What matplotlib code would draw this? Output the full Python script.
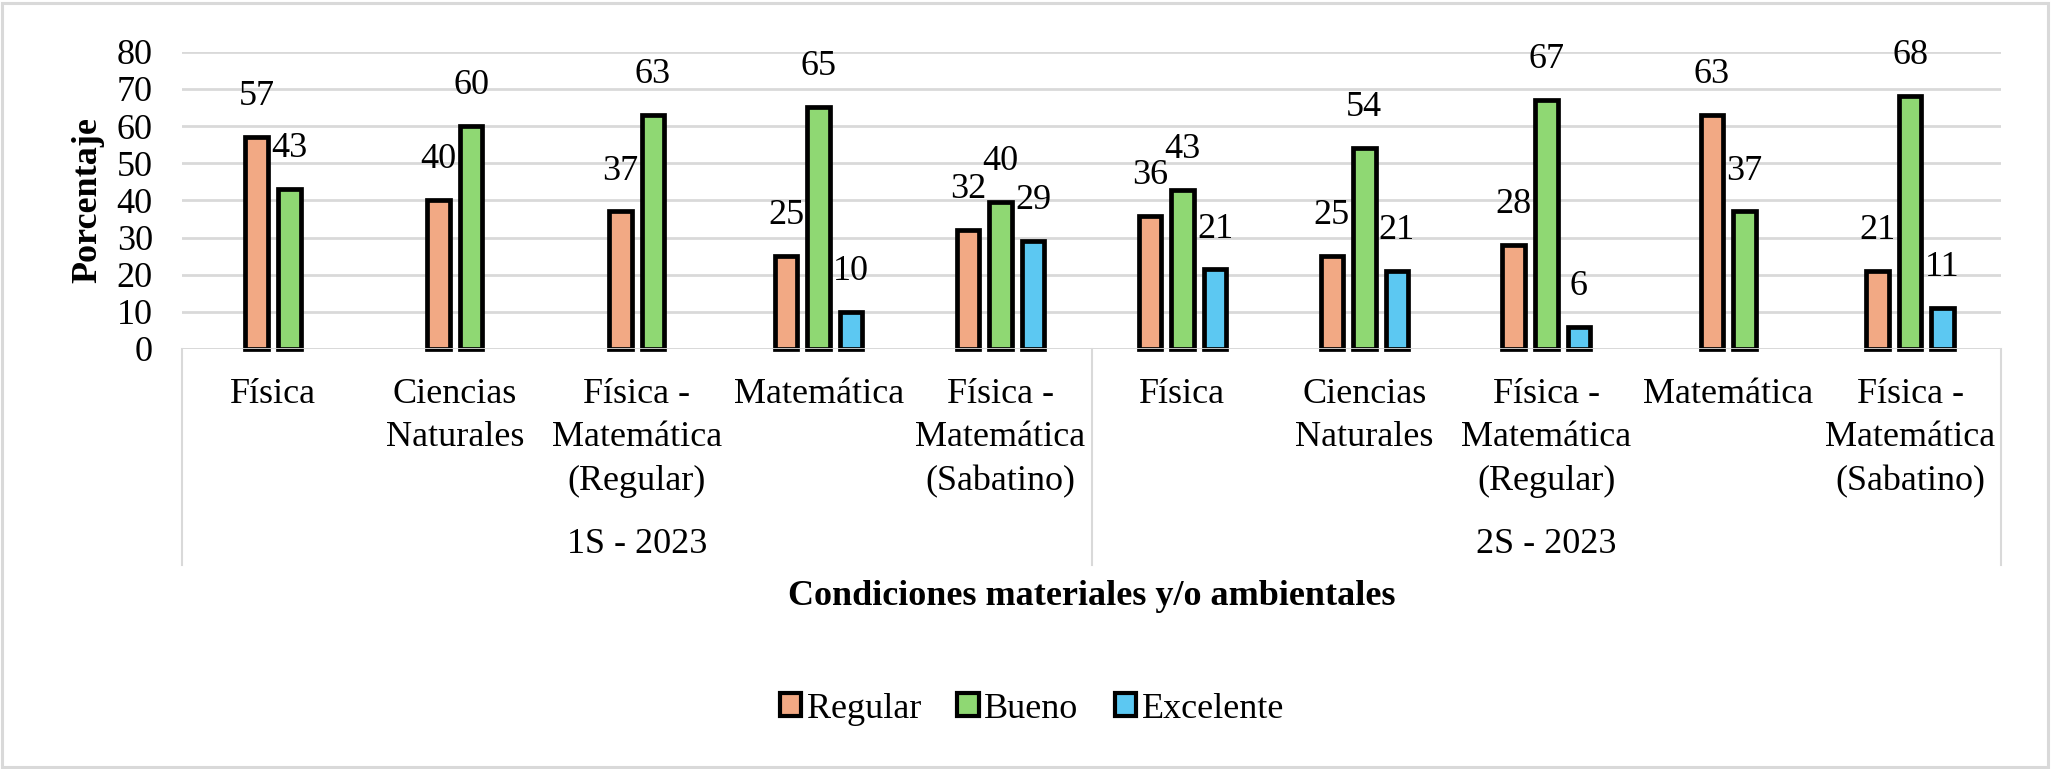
import matplotlib
matplotlib.use('Agg')
import matplotlib.pyplot as plt
from matplotlib.patches import Patch, Rectangle
from matplotlib.lines import Line2D

plt.rcParams['font.family'] = ['Liberation Serif', 'DejaVu Serif']

# --- data ---
categories = ['Física', 'Ciencias\nNaturales', 'Física -\nMatemática\n(Regular)', 'Matemática',
              'Física -\nMatemática\n(Sabatino)',
              'Física', 'Ciencias\nNaturales', 'Física -\nMatemática\n(Regular)', 'Matemática',
              'Física -\nMatemática\n(Sabatino)']
groups = ['1S - 2023', '2S - 2023']
series_names = ['Regular', 'Bueno', 'Excelente']
regular = [57, 40, 37, 25, 32, 35.7, 25, 28, 63, 21]
bueno = [43, 60, 63, 65, 39.5, 42.9, 54, 67, 37, 68]
excelente = [None, None, None, 10, 29, 21.4, 21, 6, None, 11]
colors = ['#F2A984', '#8FD873', '#5CC8F2']

# --- layout (pixels of the 2055x769 image) ---
W, H = 2055, 769
left, right, top, bottom = 182, 2001, 51.7, 349
catw = (right - left) / len(categories)


def fy(px):
    return 1 - px / H


def fx(x):
    return (left + (x + 0.5) * catw) / W


fig = plt.figure(figsize=(W / 100, H / 100), dpi=100)
ax = fig.add_axes([left / W, fy(bottom), (right - left) / W, (bottom - top) / H])

bw = 0.124
pitch = 0.179
for i in range(len(categories)):
    present = [(k, v) for k, v in enumerate([regular[i], bueno[i], excelente[i]]) if v is not None]
    n = len(present)
    for m, (k, v) in enumerate(present):
        x = i + (m - (n - 1) / 2) * pitch
        ax.bar(x, v, width=bw, color=colors[k], edgecolor='black', linewidth=3.4,
               zorder=2, clip_on=False)
        ax.annotate(f'{int(v + 0.5)}', (x, v), xytext=(0, 23), textcoords='offset points',
                    ha='center', va='baseline', fontsize=26)

ax.axhline(0, color='#D9D9D9', lw=2, zorder=3)
ax.set_xlim(-0.5, 9.5)
ax.set_ylim(0, 80)
ax.set_yticks(range(0, 81, 10))
ax.set_xticks([])
ax.tick_params(axis='y', length=0, pad=21, labelsize=26)
for s in ax.spines.values():
    s.set_visible(False)
ax.yaxis.grid(True, color='#D9D9D9', lw=2)
ax.set_axisbelow(True)

# category axis box
for x in [-0.5, 4.5, 9.5]:
    fig.add_artist(Line2D([fx(x), fx(x)], [fy(349), fy(565)], color='#D9D9D9', lw=1.5))

for i, lab in enumerate(categories):
    for k, line in enumerate(lab.split('\n')):
        fig.text(fx(i), fy(403 + k * 43.5), line, ha='center', va='baseline', fontsize=26)

fig.text(fx(2), fy(553), groups[0], ha='center', va='baseline', fontsize=26)
fig.text(fx(7), fy(553), groups[1], ha='center', va='baseline', fontsize=26)

fig.text(fx(4.5), fy(605), 'Condiciones materiales y/o ambientales', ha='center',
         va='baseline', fontsize=26, fontweight='bold')
fig.text(88 / W, fy(200), 'Porcentaje', rotation=90, ha='center', va='center',
         fontsize=26, fontweight='bold')

handles = [Patch(facecolor=c, edgecolor='black', lw=3.0) for c in colors]
fig.legend(handles, series_names, loc='center', bbox_to_anchor=(1032 / W, fy(709)),
           ncol=3, frameon=False, fontsize=26, handlelength=0.6, handleheight=0.6,
           handletextpad=0.15, columnspacing=1.0)

# chart border
fig.add_artist(Rectangle((2 / W, 2.5 / H), 2046 / W, 764 / H, transform=fig.transFigure,
                         fill=False, edgecolor='#D9D9D9', lw=2.2))

fig.savefig('out.png', dpi=100)
